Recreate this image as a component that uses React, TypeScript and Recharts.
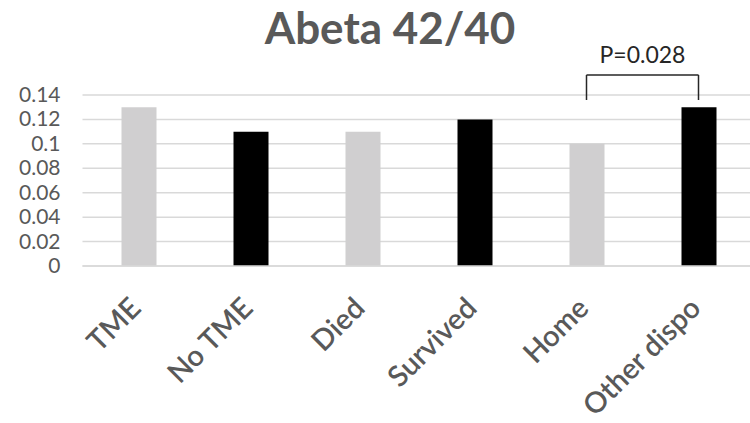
import React from 'react';
import { BarChart, Bar, Cell, XAxis, YAxis, CartesianGrid, ReferenceLine } from 'recharts';

const categories = ['TME', 'No TME', 'Died', 'Survived', 'Home', 'Other dispo'];
const ratios = [0.13, 0.11, 0.11, 0.12, 0.1, 0.13];
const yTicks = [0, 0.02, 0.04, 0.06, 0.08, 0.1, 0.12, 0.14];

// significance bracket between Home and Other dispo
const bracketFrom = 'Home';
const bracketTo = 'Other dispo';
const bracketTop = 0.1564;
const bracketFoot = 0.1359;
const pLabel = 'P=0.028';

const GRAY = '#d0cfd0';
const BLACK = '#000000';
const TEXT = '#595959';
const FONT = 'Lato, "Open Sans", sans-serif';

const data = categories.map((name, i) => ({ name, value: ratios[i] }));

const fmt = (v: number) => String(+v.toFixed(2));

const YTick = (props: any) => {
  const { x, y, payload } = props;
  return (
    <text x={x} y={y} dy={7} textAnchor="end" fill={TEXT} fontSize={21} fontFamily={FONT}>
      {fmt(payload.value)}
    </text>
  );
};

const XTick = (props: any) => {
  const { x, y, payload } = props;
  const ax = x + 4;
  const ay = y + 44;
  return (
    <text
      x={ax}
      y={ay}
      textAnchor="end"
      fill={TEXT}
      fontSize={29}
      fontWeight={600}
      fontFamily={FONT}
      transform={`rotate(-45, ${ax}, ${ay})`}
    >
      {payload.value}
    </text>
  );
};

export default function App() {
  return (
    <div style={{ position: 'absolute', left: 0, top: 0, width: 750, height: 423, overflow: 'hidden', background: '#fff' }}>
      <div
        style={{
          position: 'absolute',
          left: 0,
          top: 0,
          width: 780,
          textAlign: 'center',
          fontFamily: FONT,
          fontWeight: 700,
          fontSize: 44,
          lineHeight: '54px',
          color: TEXT,
        }}
      >
        Abeta 42/40
      </div>
      <div style={{ position: 'absolute', left: 0, top: 0 }}>
        <BarChart width={760} height={423} data={data} margin={{ top: 95, right: 5.5, bottom: 0, left: 0 }}>
          <CartesianGrid vertical={false} stroke="#d9d9d9" strokeWidth={1.5} />
          <XAxis
            dataKey="name"
            height={157}
            axisLine={{ stroke: '#d9d9d9', strokeWidth: 1.5 }}
            tickLine={false}
            tick={<XTick />}
            interval={0}
            tickSize={0}
            tickMargin={0}
          />
          <YAxis
            width={82.5}
            domain={[0, 0.14]}
            ticks={yTicks}
            axisLine={false}
            tickLine={false}
            tickSize={0}
            tickMargin={22}
            tick={<YTick />}
          />
          <Bar dataKey="value" barSize={35} isAnimationActive={false}>
            {data.map((d, i) => (
              <Cell key={d.name} fill={i % 2 === 0 ? GRAY : BLACK} />
            ))}
          </Bar>
          <ReferenceLine
            segment={[{ x: bracketFrom, y: bracketTop }, { x: bracketTo, y: bracketTop }]}
            ifOverflow="visible"
            stroke="#262626"
            strokeWidth={1.5}
            label={{ value: pLabel, position: 'top', offset: 12, fill: '#262626', fontSize: 23, fontFamily: FONT }}
          />
          <ReferenceLine
            segment={[{ x: bracketFrom, y: bracketTop }, { x: bracketFrom, y: bracketFoot }]}
            ifOverflow="visible"
            stroke="#262626"
            strokeWidth={1.5}
          />
          <ReferenceLine
            segment={[{ x: bracketTo, y: bracketTop }, { x: bracketTo, y: bracketFoot }]}
            ifOverflow="visible"
            stroke="#262626"
            strokeWidth={1.5}
          />
        </BarChart>
      </div>
    </div>
  );
}
